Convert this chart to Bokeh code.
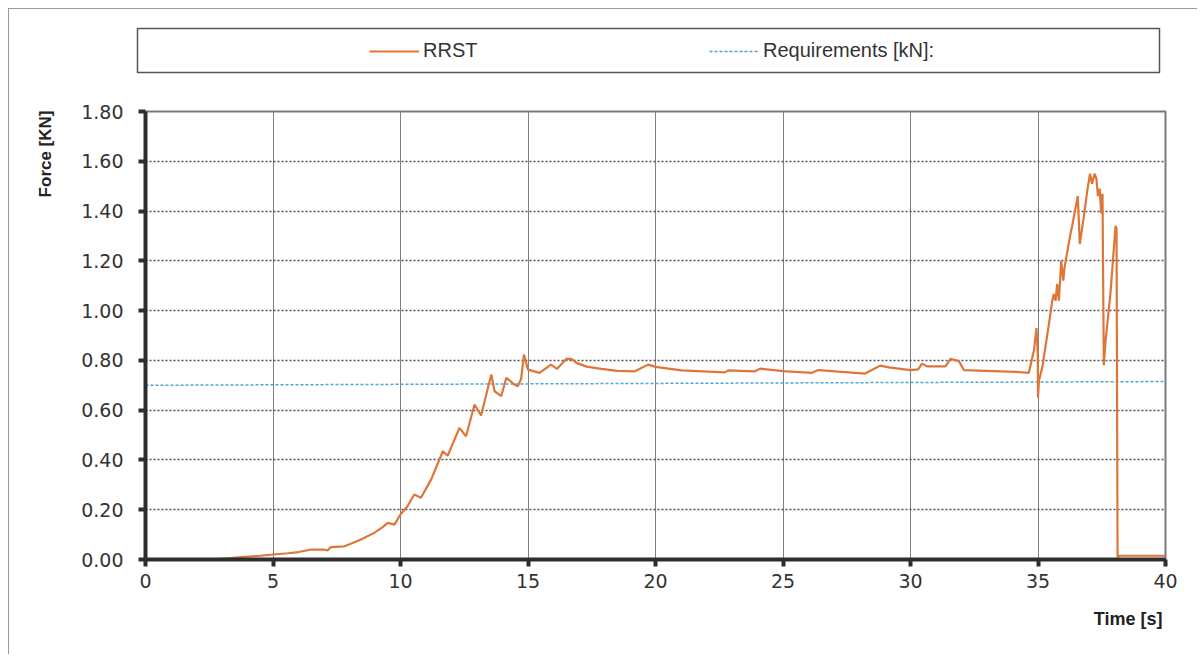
from bokeh.plotting import figure
from bokeh.layouts import column
from bokeh.models import (Range1d, FixedTicker, NumeralTickFormatter, Legend, LegendItem, Title)
from bokeh.embed import file_html
from bokeh.resources import INLINE

# ---------------- data ----------------
rrst_t = [0, 2.5, 3.2, 3.8, 4.5, 5.0, 5.6, 6.0, 6.5, 7.0, 7.14, 7.27, 7.8, 8.1, 8.45, 8.97, 9.3, 9.5, 9.76,
          10.0, 10.28, 10.54, 10.8, 11.2, 11.66, 11.85, 12.31, 12.57, 12.9, 13.16, 13.56, 13.69, 13.95, 14.15,
          14.47, 14.6, 14.73, 14.84, 15.0, 15.45, 15.9, 16.14, 16.5, 16.7, 16.9, 17.3, 17.88, 18.5, 19.19,
          19.71, 20.0, 21.02, 22.72, 22.85, 23.9, 24.1, 25.0, 26.13, 26.39, 28.22, 28.48, 28.81, 29.15, 30.0,
          30.3, 30.45, 30.65, 31.37, 31.57, 31.9, 32.09, 34.12, 34.64, 34.84, 34.94, 34.99, 35.0, 35.04, 35.17,
          35.43, 35.56, 35.62, 35.69, 35.75, 35.82, 35.91, 35.99, 36.04, 36.27, 36.34, 36.56, 36.64, 36.8,
          36.93, 37.04, 37.12, 37.22, 37.29, 37.35, 37.42, 37.48, 37.53, 37.58, 37.65, 37.84, 38.04, 38.08,
          38.12, 38.2, 40.0]
rrst_f = [0.0, 0.0, 0.005, 0.01, 0.015, 0.02, 0.025, 0.03, 0.04, 0.04, 0.036, 0.05, 0.053, 0.065, 0.08, 0.107,
          0.13, 0.147, 0.14, 0.181, 0.215, 0.261, 0.248, 0.321, 0.435, 0.417, 0.529, 0.495, 0.622, 0.579, 0.743,
          0.676, 0.656, 0.73, 0.703, 0.696, 0.725, 0.823, 0.763, 0.75, 0.783, 0.766, 0.806, 0.806, 0.79, 0.775,
          0.766, 0.758, 0.756, 0.783, 0.774, 0.76, 0.752, 0.76, 0.756, 0.767, 0.757, 0.75, 0.761, 0.747, 0.761,
          0.779, 0.772, 0.761, 0.764, 0.787, 0.776, 0.776, 0.806, 0.797, 0.761, 0.754, 0.75, 0.84, 0.93, 0.827,
          0.65, 0.72, 0.773, 0.947, 1.04, 1.067, 1.04, 1.107, 1.04, 1.2, 1.12, 1.173, 1.307, 1.34, 1.46, 1.267,
          1.38, 1.48, 1.55, 1.51, 1.55, 1.53, 1.46, 1.49, 1.39, 1.47, 0.78, 0.88, 1.067, 1.34, 1.33, 0.01, 0.015,
          0.015]
req_t = [0, 40]
req_f = [0.70, 0.715]

x_ticks = [0, 5, 10, 15, 20, 25, 30, 35, 40]
y_ticks = [0.0, 0.2, 0.4, 0.6, 0.8, 1.0, 1.2, 1.4, 1.6, 1.8]

series_names = ["RRST", "Requirements [kN]:"]
x_title = "Time [s]"
y_title = "Force [KN]"

RRST_COLOR = "#dd7638"
REQ_COLOR = "#4aa8d0"

# ---------------- legend strip (its frame is the legend box) ----------------
# the series are drawn here too, but the ranges keep them out of view: they only feed the legend
top = figure(width=1188, height=90, output_backend="svg", toolbar_location=None,
             x_range=Range1d(100, 101), y_range=Range1d(100, 101),
             x_axis_location=None, y_axis_location=None,
             min_border_left=128, min_border_right=38, min_border_top=19, min_border_bottom=27)
top.frame_align = False
top.grid.visible = False
top.outline_line_color = "#555555"
top.outline_line_width = 1.5
top.background_fill_color = "white"
top.border_fill_color = "white"
s_rrst = top.line(rrst_t, rrst_f, line_color=RRST_COLOR, line_width=2.2)
s_req = top.line(req_t, req_f, line_color=REQ_COLOR, line_width=1.5, line_dash="3 2")

common = dict(orientation="horizontal", padding=0, margin=0, spacing=0, glyph_width=50, glyph_height=24,
              label_standoff=4, label_height=0, label_width=0, label_text_font="Liberation Sans",
              label_text_font_size="20px", label_text_color="#333333",
              border_line_alpha=0, background_fill_alpha=0)
top.add_layout(Legend(items=[LegendItem(label=series_names[0], renderers=[s_rrst])],
                      location=(232, 9.5), **common), "center")
top.add_layout(Legend(items=[LegendItem(label=series_names[1], renderers=[s_req])],
                      location=(572, 9.5), **common), "center")

# ---------------- main chart ----------------
p = figure(width=1188, height=555, output_backend="svg", toolbar_location=None,
           x_range=Range1d(0, 40), y_range=Range1d(0, 1.8),
           min_border_left=136, min_border_right=32, min_border_top=12, min_border_bottom=95)
p.frame_align = False
p.background_fill_color = "white"
p.border_fill_color = "white"
p.outline_line_color = "#7a7a7a"
p.outline_line_width = 2

for ax in (p.xaxis[0], p.yaxis[0]):
    ax.axis_line_color = "#2e2e2e"
    ax.axis_line_width = 4
    ax.major_tick_line_color = "#2e2e2e"
    ax.major_tick_line_width = 4
    ax.major_tick_out = 7
    ax.major_tick_in = 0
    ax.minor_tick_line_color = None
    ax.major_label_text_font = "DejaVu Sans"
    ax.major_label_text_font_size = "19px"
    ax.major_label_text_color = "#333333"

p.xaxis.ticker = FixedTicker(ticks=x_ticks)
p.yaxis.ticker = FixedTicker(ticks=y_ticks)
p.yaxis.formatter = NumeralTickFormatter(format="0.00")
p.xaxis.major_label_standoff = 7
p.yaxis.major_label_standoff = 15

p.xgrid.grid_line_color = "#808080"
p.xgrid.grid_line_width = 1
p.ygrid.grid_line_color = "#505050"
p.ygrid.grid_line_width = 1.3
p.ygrid.grid_line_dash = "2 2"

p.line(req_t, req_f, line_color=REQ_COLOR, line_width=1.5, line_dash="3 2")
p.line(rrst_t, rrst_f, line_color=RRST_COLOR, line_width=2.2)

p.add_layout(Title(text=y_title, align="right", vertical_align="bottom", offset=-1, standoff=47,
                   text_font="Liberation Sans", text_font_style="bold", text_font_size="17px",
                   text_color="#222222"), "left")
p.add_layout(Title(text=x_title, align="right", vertical_align="top", offset=3, standoff=36,
                   text_font="Liberation Sans", text_font_style="bold", text_font_size="18px",
                   text_color="#222222"), "below")

layout = column(top, p, margin=(8, 0, 0, 8),
                styles={"border-left": "1px solid #9a9a9a", "border-top": "1px solid #9a9a9a"})

open("out.html", "w").write(file_html(layout, INLINE))
